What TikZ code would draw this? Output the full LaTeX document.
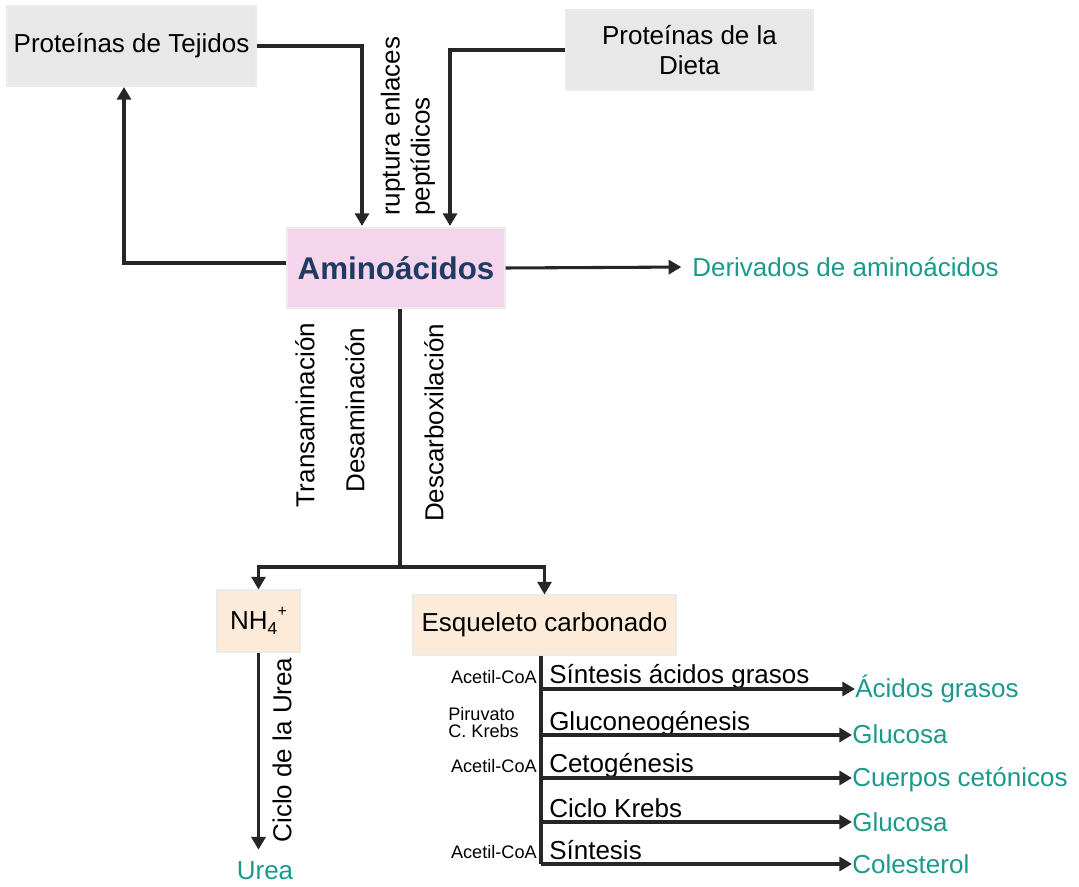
\documentclass[tikz,border=0pt]{standalone}
\usepackage{fontspec}
\setmainfont{Liberation Sans}
\usetikzlibrary{arrows.meta}
\definecolor{boxgray}{HTML}{E8E8E8}
\definecolor{pinkbox}{HTML}{F5D5EC}
\definecolor{peach}{HTML}{FDEBDA}
\definecolor{navy}{HTML}{1F3A63}
\definecolor{tealc}{HTML}{1A9A8B}
\definecolor{linec}{HTML}{262626}
\newcommand{\mainsz}{\fontsize{19.5}{22.5}\selectfont}
\newcommand{\smallsz}{\fontsize{13.6}{12.75}\selectfont}
\begin{document}
\begin{tikzpicture}[x=0.75pt,y=-0.75pt,
 box/.style={rectangle, draw=black!8, line width=0.8pt, inner sep=0pt, font=\mainsz, align=center},
 ln/.style={draw=linec, line width=2.3pt},
 arr/.style={ln, -{Triangle[length=9.5pt,width=10.5pt]}},
 lab/.style={font=\mainsz, inner sep=0pt},
 res/.style={font=\mainsz, text=tealc, inner sep=0pt},
 sml/.style={font=\smallsz, inner sep=0pt}]
\useasboundingbox (0,0) rectangle (1079,887);

% boxes
\node[box, fill=boxgray, minimum width=186.75pt, minimum height=60pt] (tej) at (131.5,46) {Proteínas de Tejidos};
\node[box, fill=boxgray, minimum width=185.25pt, minimum height=60pt] (dieta) at (689.5,50) {Proteínas de la\\Dieta};
\node[box, fill=pinkbox, minimum width=163.5pt, minimum height=60pt, font=\fontsize{23.5}{28}\selectfont\bfseries, text=navy] (amino) at (396,268) {Aminoácidos};
\node[box, fill=peach, minimum width=62.25pt, minimum height=46.5pt] (nh4) at (258.5,621) {NH\raisebox{-0.22em}{\fontsize{13}{13}\selectfont 4}\kern0.3pt\raisebox{0.5em}{\fontsize{12}{12}\selectfont +}};
\node[box, fill=peach, minimum width=197.25pt, minimum height=45pt] (esq) at (544.5,625) {Esqueleto carbonado};

% outputs
\node[res, anchor=west] (deriv) at (692,267) {Derivados de aminoácidos};
\node[res] (urea) at (265,871) {Urea};
\node[res, anchor=base west] (r1) at (855,698) {Ácidos grasos};
\node[res, anchor=base west] (r2) at (852,744) {Glucosa};
\node[res, anchor=base west] (r3) at (852,787) {Cuerpos cetónicos};
\node[res, anchor=base west] (r4) at (852,831) {Glucosa};
\node[res, anchor=base west] (r5) at (852,873) {Colesterol};

% rotated labels
\node[lab, rotate=90, align=left, anchor=west] (rup) at (408,216) {ruptura enlaces\\peptídicos};
\node[lab, rotate=90] (trans) at (305,415) {Transaminación};
\node[lab, rotate=90] (desam) at (355,410) {Desaminación};
\node[lab, rotate=90] (desc) at (434,423) {Descarboxilación};
\node[lab, rotate=90] (ciclo) at (282,750) {Ciclo de la Urea};

% process labels
\node[lab, anchor=base west] (p1) at (549,684) {Síntesis ácidos grasos};
\node[lab, anchor=base west] (p2) at (549,730) {Gluconeogénesis};
\node[lab, anchor=base west] (p3) at (549,773) {Cetogénesis};
\node[lab, anchor=base west] (p4) at (549,817) {Ciclo Krebs};
\node[lab, anchor=base west] (p5) at (549,859) {Síntesis};

% small labels
\node[sml, anchor=east] (a1) at (537,677) {Acetil-CoA};
\node[sml, anchor=west, align=left] (a2) at (448,723) {Piruvato\\C. Krebs};
\node[sml, anchor=east] (a3) at (537,766) {Acetil-CoA};
\node[sml, anchor=east] (a4) at (537,852) {Acetil-CoA};

% coordinates
\coordinate (c1) at (362,226);
\coordinate (c2) at (450,226);
\coordinate (c3) at (124,87);
\coordinate (br) at (400,567);
\coordinate (s1) at (541,689);
\coordinate (s2) at (541,735);
\coordinate (s3) at (541,778);
\coordinate (s4) at (541,822);
\coordinate (s5) at (541,864);

% connectors
\draw[arr] (tej.east) -| (c1);
\draw[arr] (dieta.west) -| (c2);
\draw[arr] ([yshift=3.75pt]amino.west) -| (c3);
\draw[arr, shorten >=8pt] (amino.east) -- (deriv.west);
\draw[ln] (amino.south -| br) -- (br);
\draw[arr] (br) -| (nh4.north);
\draw[arr] (br) -| (esq.north);
\draw[arr, shorten >=9pt] (nh4.south) -- (nh4.south |- urea.north);
\draw[ln] (esq.south -| s5) -- (s5);
\draw[arr] (s1) -- (r1.west |- s1);
\draw[arr] (s2) -- (r2.west |- s2);
\draw[arr] (s3) -- (r3.west |- s3);
\draw[arr] (s4) -- (r4.west |- s4);
\draw[arr] (s5) -- (r5.west |- s5);
\end{tikzpicture}
\end{document}
